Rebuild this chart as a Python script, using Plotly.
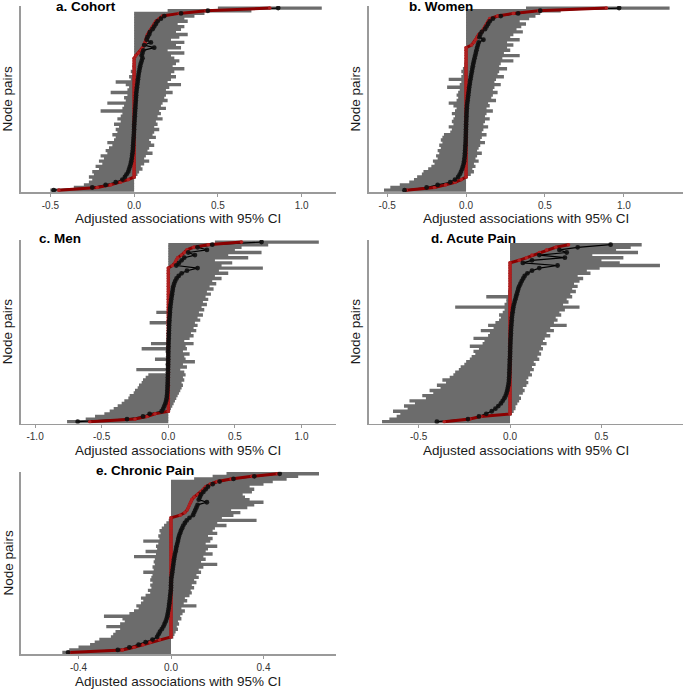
import plotly.graph_objects as go

W, H = 685, 691

# ---------------- data (index 0 = bottom row of each panel) ----------------
# a. Cohort
reg_a = [-0.45, -0.22, -0.14, -0.08, -0.035] + [0.0] * 46 + \
        [0.01, 0.025, 0.04, 0.05, 0.06, 0.065, 0.07, 0.075, 0.08, 0.09, 0.10,
         0.11, 0.12, 0.13, 0.15, 0.17, 0.27, 0.43, 0.81]
est_a = [-0.48, -0.25, -0.17, -0.11, -0.07,
         -0.055, -0.045, -0.035, -0.03, -0.025, -0.02, -0.017, -0.014, -0.012, -0.01,
         -0.008, -0.007, -0.006, -0.005, -0.004, -0.003, -0.002, -0.001, 0.0, 0.0,
         0.001, 0.002, 0.003, 0.004, 0.005, 0.006, 0.007, 0.008, 0.009, 0.01,
         0.011, 0.012, 0.013, 0.015, 0.017, 0.019, 0.021, 0.023, 0.025, 0.027,
         0.03, 0.033, 0.036, 0.04, 0.045, 0.05,
         0.045, 0.05, 0.055, 0.12, 0.06, 0.1, 0.075, 0.08, 0.09, 0.095,
         0.11, 0.12, 0.13, 0.14, 0.16, 0.18, 0.28, 0.44, 0.86]
lo_a = [-0.5, -0.36, -0.3, -0.27, -0.25,
        -0.27, -0.24, -0.25, -0.21, -0.23, -0.19, -0.21, -0.18, -0.2, -0.16,
        -0.17, -0.15, -0.13, -0.16, -0.12, -0.11, -0.13, -0.1, -0.11, -0.09,
        -0.12, -0.08, -0.1, -0.08, -0.07, -0.2, -0.07, -0.06, -0.16, -0.05,
        -0.06, -0.04, -0.14, -0.04, -0.03, -0.05, -0.11, -0.02, -0.03, -0.01,
        -0.02, -0.005, -0.01, 0.0, 0.0, 0.0] + [0.0] * 17 + [0.2, 0.5]
hi_a = [0.0] * 5 + \
       [0.01, 0.02, 0.03, 0.05, 0.04, 0.06, 0.09, 0.06, 0.07, 0.11,
        0.08, 0.09, 0.12, 0.1, 0.09, 0.13, 0.11, 0.12, 0.15, 0.12,
        0.14, 0.13, 0.17, 0.14, 0.16, 0.15, 0.19, 0.16, 0.17, 0.2,
        0.18, 0.19, 0.23, 0.19, 0.21, 0.28, 0.2, 0.22, 0.25, 0.22,
        0.24, 0.3, 0.23, 0.25, 0.27, 0.24] + \
       [0.22, 0.3, 0.2, 0.28, 0.25, 0.3, 0.22, 0.27, 0.32, 0.25,
        0.28, 0.3, 0.26, 0.32, 0.3, 0.36, 0.42, 0.7, 1.12]

# b. Women
reg_b = [-0.38, -0.2, -0.13, -0.07, -0.03] + [0.0] * 50 + \
        [0.035, 0.05, 0.06, 0.07, 0.08, 0.1, 0.11, 0.12, 0.13, 0.14, 0.15, 0.2, 0.3, 0.46, 0.89]
est_b = [-0.39, -0.25, -0.18, -0.1, -0.07,
         -0.05, -0.04, -0.032, -0.025, -0.02, -0.015, -0.012, -0.01, -0.008, -0.007,
         -0.006, -0.005, -0.004, -0.003, -0.0025, -0.002, -0.0015, -0.001, -0.0005, 0.0,
         0.0005, 0.001, 0.002, 0.0025, 0.003, 0.004, 0.005, 0.006, 0.008, 0.01,
         0.012, 0.014, 0.016, 0.018, 0.02, 0.023, 0.025, 0.028, 0.031, 0.034,
         0.037, 0.04, 0.043, 0.046, 0.05, 0.054, 0.058, 0.062, 0.066, 0.07,
         0.075, 0.08, 0.11, 0.085, 0.09, 0.1, 0.12, 0.13, 0.14, 0.15, 0.17, 0.22, 0.33, 0.47, 0.97]
lo_b = [-0.52, -0.48, -0.42, -0.36, -0.33,
        -0.31, -0.28, -0.27, -0.24, -0.22, -0.2, -0.21, -0.18, -0.19, -0.17,
        -0.18, -0.16, -0.17, -0.15, -0.16, -0.15, -0.14, -0.1, -0.09, -0.11,
        -0.08, -0.09, -0.08, -0.07, -0.09, -0.07, -0.06, -0.08, -0.11, -0.06,
        -0.05, -0.06, -0.05, -0.04, -0.12, -0.04, -0.03, -0.11, -0.03, -0.02,
        -0.03, -0.02, -0.01, -0.01, 0.0, 0.0, 0.0, 0.0, 0.0, 0.0] + [0.0] * 14 + [0.38]
hi_b = [0.0] * 5 + \
       [0.01, 0.03, 0.05, 0.04, 0.06, 0.05, 0.08, 0.06, 0.07, 0.1,
        0.07, 0.08, 0.09, 0.12, 0.09, 0.1, 0.13, 0.1, 0.11, 0.14,
        0.11, 0.12, 0.15, 0.12, 0.13, 0.17, 0.13, 0.15, 0.14, 0.19,
        0.16, 0.17, 0.2, 0.17, 0.18, 0.22, 0.18, 0.19, 0.24, 0.2,
        0.21, 0.26, 0.21, 0.22, 0.3, 0.23, 0.34, 0.24, 0.28, 0.26] + \
       [0.3, 0.26, 0.34, 0.28, 0.3, 0.36, 0.32, 0.35, 0.38, 0.34, 0.4, 0.44, 0.47, 0.6, 1.29]

# c. Men
reg_c = [-0.59, -0.25, -0.16, -0.1] + [0.0] * 56 + \
        [0.03, 0.05, 0.06, 0.07, 0.1, 0.12, 0.14, 0.19, 0.3, 0.55]
est_c = [-0.68, -0.31, -0.19, -0.14,
         -0.05, -0.038, -0.03, -0.022, -0.016, -0.012, -0.01, -0.008, -0.007, -0.006,
         -0.005, -0.0045, -0.004, -0.0035, -0.003, -0.0025, -0.002, -0.0015, -0.001, -0.0007,
         -0.0004, -0.0002, 0.0, 0.0003, 0.0006, 0.001, 0.0015, 0.002, 0.003, 0.0035,
         0.004, 0.005, 0.0055, 0.006, 0.007, 0.008, 0.009, 0.011, 0.012, 0.013,
         0.015, 0.017, 0.02, 0.022, 0.025, 0.028, 0.031, 0.034, 0.038, 0.044,
         0.052, 0.062, 0.078, 0.1, 0.14, 0.22,
         0.06, 0.08, 0.1, 0.12, 0.2, 0.15, 0.29, 0.22, 0.33, 0.7]
lo_c = [-0.76, -0.62, -0.55, -0.48,
        -0.44, -0.41, -0.38, -0.35, -0.33, -0.3, -0.29, -0.26, -0.25, -0.23,
        -0.22, -0.2, -0.19, -0.17, -0.15, -0.01, -0.24, 0.0, -0.02, 0.0,
        -0.1, -0.01, 0.0, -0.02, -0.2, 0.0, -0.13, -0.01, 0.0, 0.0,
        -0.01, 0.0, 0.0, -0.01, -0.14, 0.0, 0.0, -0.01, -0.09, 0.0] + [0.0] * 16 + \
       [0.0] * 9 + [0.35]
hi_c = [0.0] * 4 + \
       [0.01, 0.02, 0.03, 0.04, 0.05, 0.06, 0.07, 0.08, 0.09, 0.1,
        0.11, 0.1, 0.12, 0.11, 0.13, 0.12, 0.09, 0.14, 0.11, 0.2,
        0.13, 0.12, 0.16, 0.11, 0.14, 0.13, 0.19, 0.12, 0.16, 0.19,
        0.17, 0.21, 0.19, 0.22, 0.2, 0.24, 0.22, 0.26, 0.23, 0.27,
        0.25, 0.29, 0.26, 0.3, 0.28, 0.32, 0.29, 0.34, 0.31, 0.36,
        0.33, 0.4, 0.35, 0.45, 0.38, 0.71] + \
       [0.4, 0.48, 0.35, 0.6, 0.45, 0.7, 0.5, 0.55, 0.75, 1.13]

# d. Acute Pain
reg_d = [-0.36, -0.22, -0.16] + [0.0] * 59 + [0.05, 0.09, 0.12, 0.16, 0.2, 0.25, 0.32, 0.47]
est_d = [-0.4, -0.23, -0.17,
         -0.13, -0.1, -0.08, -0.064, -0.05, -0.04, -0.031, -0.024, -0.019, -0.015,
         -0.012, -0.009, -0.007, -0.006, -0.005, -0.004, -0.0035, -0.003, -0.0025, -0.002,
         -0.0015, -0.001, 0.0, 0.0003, 0.0006, 0.001, 0.0015, 0.002, 0.0025, 0.003,
         0.004, 0.0045, 0.005, 0.006, 0.007, 0.008, 0.009, 0.01, 0.012, 0.014,
         0.016, 0.018, 0.021, 0.025, 0.029, 0.033, 0.037, 0.041, 0.045, 0.05,
         0.057, 0.064, 0.072, 0.08, 0.095, 0.12, 0.16, 0.26,
         0.07, 0.12, 0.3, 0.16, 0.31, 0.27, 0.37, 0.55]
lo_d = [-0.7, -0.66, -0.62,
        -0.6, -0.64, -0.56, -0.58, -0.52, -0.55, -0.46, -0.48, -0.42, -0.44,
        -0.38, -0.4, -0.35, -0.37, -0.33, -0.31, -0.3, -0.28, -0.27, -0.25,
        -0.24, -0.22, -0.21, -0.19, -0.2, -0.17, -0.22, -0.15, -0.14, -0.2,
        -0.12, -0.11, -0.16, -0.09, -0.12, -0.08, -0.06, -0.05, -0.06, -0.04,
        -0.03, -0.3, -0.03, -0.02, -0.02, -0.13, -0.01, -0.01, 0.0, 0.0,
        0.0, 0.0, 0.0, 0.0, 0.0, 0.0, 0.0, 0.0, 0.0] + [0.0] * 7 + [0.3]
hi_d = [0.0] * 3 + \
       [0.01, 0.02, 0.03, 0.03, 0.04, 0.05, 0.06, 0.05, 0.07, 0.08,
        0.07, 0.09, 0.1, 0.09, 0.1, 0.12, 0.11, 0.13, 0.12, 0.14,
        0.13, 0.16, 0.15, 0.17, 0.16, 0.18, 0.17, 0.2, 0.18, 0.19,
        0.22, 0.2, 0.24, 0.22, 0.31, 0.24, 0.26, 0.25, 0.28, 0.27,
        0.3, 0.38, 0.29, 0.32, 0.31, 0.34, 0.33, 0.36, 0.34, 0.37,
        0.35, 0.38, 0.4, 0.37, 0.44, 0.42, 0.49, 0.82, 0.6] + \
       [0.5, 0.62, 0.45, 0.7, 0.58, 0.66, 0.72, 0.87]

# e. Chronic Pain
reg_e = [-0.44, -0.21, -0.16, -0.12, -0.09, -0.05] + [0.0] * 47 + \
        [0.04, 0.06, 0.07, 0.075, 0.08, 0.085, 0.09, 0.1, 0.115, 0.13, 0.14, 0.15,
         0.17, 0.2, 0.26, 0.35, 0.46]
est_e = [-0.445, -0.23, -0.18, -0.14, -0.11, -0.08,
         -0.06, -0.054, -0.048, -0.04, -0.033, -0.028, -0.023, -0.019, -0.016, -0.014,
         -0.012, -0.01, -0.0085, -0.007, -0.006, -0.0045, -0.0035, -0.002, -0.001, 0.0,
         0.0, 0.0005, 0.001, 0.002, 0.004, 0.0055, 0.007, 0.0085, 0.01, 0.0115,
         0.013, 0.015, 0.017, 0.02, 0.022, 0.024, 0.027, 0.03, 0.032, 0.035,
         0.039, 0.043, 0.048, 0.053, 0.06, 0.068, 0.08,
         0.095, 0.1, 0.105, 0.11, 0.115, 0.155, 0.12, 0.125, 0.13, 0.14, 0.15, 0.16,
         0.18, 0.21, 0.27, 0.36, 0.47]
lo_e = [-0.47, -0.44, -0.4, -0.35, -0.33, -0.31,
        -0.26, -0.25, -0.24, -0.22, -0.28, -0.22, -0.2, -0.21, -0.29, -0.18,
        -0.16, -0.14, -0.15, -0.13, -0.12, -0.13, -0.11, -0.09, -0.1, -0.085,
        -0.09, -0.08, -0.09, -0.085, -0.08, -0.12, -0.075, -0.08, -0.07, -0.075,
        -0.07, -0.16, -0.065, -0.11, -0.06, -0.065, -0.055, -0.12, -0.05, -0.055,
        -0.045, -0.05, -0.04, -0.03, -0.02, -0.01, 0.0] + [0.0] * 14 + [0.1, 0.18, 0.24]
hi_e = [0.0] * 6 + \
       [0.01, 0.015, 0.02, 0.03, 0.025, 0.035, 0.03, 0.045, 0.04, 0.05,
        0.06, 0.045, 0.11, 0.055, 0.07, 0.06, 0.08, 0.09, 0.085, 0.1,
        0.09, 0.11, 0.1, 0.12, 0.11, 0.13, 0.12, 0.14, 0.2, 0.13,
        0.15, 0.14, 0.18, 0.15, 0.16, 0.2, 0.15, 0.17, 0.18, 0.16,
        0.2, 0.18, 0.19, 0.24, 0.2, 0.37, 0.22] + \
       [0.27, 0.3, 0.26, 0.33, 0.36, 0.4, 0.34, 0.32, 0.31, 0.35, 0.36, 0.34,
        0.4, 0.44, 0.5, 0.55, 0.64]

# tick values / labels
ticks_a = [-0.5, 0.0, 0.5, 1.0]
labels_a = ["-0.5", "0.0", "0.5", "1.0"]
ticks_b = [-0.5, 0.0, 0.5, 1.0]
labels_b = ["-0.5", "0.0", "0.5", "1.0"]
ticks_c = [-1.0, -0.5, 0.0, 0.5, 1.0]
labels_c = ["-1.0", "-0.5", "0.0", "0.5", "1.0"]
ticks_d = [-0.5, 0.0, 0.5]
labels_d = ["-0.5", "0.0", "0.5"]
ticks_e = [-0.4, 0.0, 0.4]
labels_e = ["-0.4", "0.0", "0.4"]

titles = ["a. Cohort", "b. Women", "c. Men", "d. Acute Pain", "e. Chronic Pain"]
x_title = "Adjusted associations with 95% CI"
y_title = "Node pairs"

# ---------------- layout geometry (pixels) ----------------
panels = [
    dict(est=est_a, reg=reg_a, lo=lo_a, hi=hi_a, tv=ticks_a, tt=labels_a,
         xdom=(20.7, 336), ydom=(6, 192), xr=(-0.677, 1.205), tx=54, ty=7),
    dict(est=est_b, reg=reg_b, lo=lo_b, hi=hi_b, tv=ticks_b, tt=labels_b,
         xdom=(368.7, 683), ydom=(6, 192), xr=(-0.617, 1.375), tx=407, ty=7),
    dict(est=est_c, reg=reg_c, lo=lo_c, hi=hi_c, tv=ticks_c, tt=labels_c,
         xdom=(20.7, 336), ydom=(240, 423.5), xr=(-1.108, 1.259), tx=37, ty=238),
    dict(est=est_d, reg=reg_d, lo=lo_d, hi=hi_d, tv=ticks_d, tt=labels_d,
         xdom=(368.7, 683), ydom=(240, 423.5), xr=(-0.773, 0.946), tx=429, ty=238),
    dict(est=est_e, reg=reg_e, lo=lo_e, hi=hi_e, tv=ticks_e, tt=labels_e,
         xdom=(20.7, 336), ydom=(471.7, 654.3), xr=(-0.650, 0.7135), tx=94, ty=470),
]

FONT = "Liberation Sans, Arial, sans-serif"
fig = go.Figure()
annotations = []
layout_axes = {}

for k, p in enumerate(panels, start=1):
    sfx = "" if k == 1 else str(k)
    xa, ya = "x" + sfx, "y" + sfx
    n = len(p["est"])
    rows = list(range(n))
    cx, cy = [], []
    for i in rows:
        cx += [p["lo"][i], p["hi"][i], None]
        cy += [i, i, None]
    fig.add_trace(go.Scatter(x=cx, y=cy, mode="lines", xaxis=xa, yaxis=ya,
                             line=dict(color="#6c6c6c", width=3.4),
                             hoverinfo="skip", showlegend=False))
    fig.add_trace(go.Scatter(x=p["est"], y=rows, mode="lines", xaxis=xa, yaxis=ya,
                             line=dict(color="black", width=1.2),
                             hoverinfo="skip", showlegend=False))
    fig.add_trace(go.Scatter(x=p["reg"], y=rows, mode="lines+markers", xaxis=xa, yaxis=ya,
                             line=dict(color="#8b0000", width=3),
                             marker=dict(size=3.6, color="#b02020"),
                             hoverinfo="skip", showlegend=False))
    fig.add_trace(go.Scatter(x=p["est"], y=rows, mode="markers", xaxis=xa, yaxis=ya,
                             marker=dict(size=4.8, color="rgba(15,15,15,0.9)"),
                             hoverinfo="skip", showlegend=False))

    x0, x1 = p["xdom"]
    y0, y1 = p["ydom"]
    layout_axes["xaxis" + sfx] = dict(
        domain=[x0 / W, x1 / W], range=list(p["xr"]), anchor=ya,
        tickmode="array", tickvals=p["tv"], ticktext=p["tt"],
        ticks="outside", ticklen=3, tickwidth=1, tickcolor="#999999",
        showline=True, linecolor="#9a9a9a", linewidth=1.5,
        showgrid=False, zeroline=False, fixedrange=True,
        tickfont=dict(family=FONT, size=10, color="#333333"))
    layout_axes["yaxis" + sfx] = dict(
        domain=[1 - y1 / H, 1 - y0 / H], range=[-0.7, 69.8], anchor=xa,
        showline=True, linecolor="#9a9a9a", linewidth=1.5, fixedrange=True,
        showticklabels=False, ticks="", showgrid=False, zeroline=False)

    annotations.append(dict(text="<b>%s</b>" % titles[k - 1], xref="paper", yref="paper",
                            x=p["tx"] / W, y=1 - p["ty"] / H, xanchor="left", yanchor="middle",
                            showarrow=False, font=dict(family=FONT, size=13.5, color="black")))
    annotations.append(dict(text=x_title, xref="paper", yref="paper",
                            x=(x0 + x1) / 2 / W, y=1 - (y1 + 27) / H,
                            xanchor="center", yanchor="middle", showarrow=False,
                            font=dict(family=FONT, size=13.5, color="#1a1a1a")))
    annotations.append(dict(text=y_title, xref="paper", yref="paper",
                            x=(x0 - 13.2) / W, y=1 - (y0 + y1) / 2 / H,
                            xanchor="center", yanchor="middle", textangle=-90, showarrow=False,
                            font=dict(family=FONT, size=13.5, color="#1a1a1a")))

fig.update_layout(width=W, height=H, margin=dict(l=0, r=0, t=0, b=0),
                  paper_bgcolor="white", plot_bgcolor="white", hovermode=False,
                  annotations=annotations, showlegend=False, **layout_axes)

fig.write_html("out.html", config={"displayModeBar": False, "staticPlot": True},
               post_script="document.body.style.margin='0';document.body.style.padding='0';")
